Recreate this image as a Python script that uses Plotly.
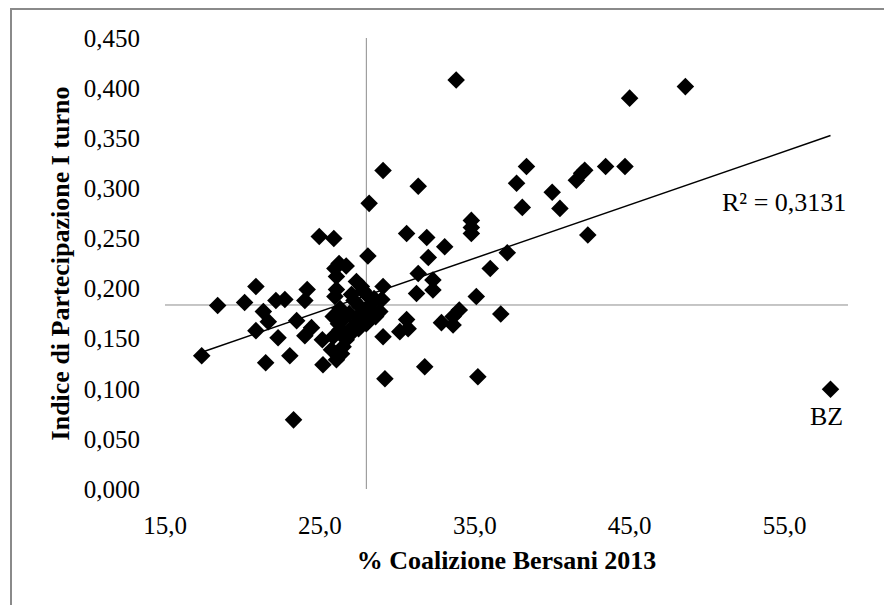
import numpy as np
import plotly.graph_objects as go

# % Coalizione Bersani 2013 (x) and Indice di Partecipazione I turno (y), per province
x_values = [20.87, 18.4, 20.14, 22.16, 22.74, 24.18, 24.03, 21.35, 21.67, 20.87,
            22.3, 23.5, 24.46, 24.03, 25.16, 17.37, 21.5, 23.06, 25.2, 23.3,
            31.35, 28.18, 24.96, 25.9, 30.6, 31.9, 28.1, 32.0, 26.24, 25.97,
            26.7, 26.07, 31.35, 29.08, 31.24, 32.3, 27.36, 27.68, 26.07, 25.97,
            27.04, 28.0, 28.33, 28.87, 27.58, 26.3, 25.86, 26.5, 27.47, 28.0,
            27.15, 26.3, 25.86, 26.7, 25.75, 26.4, 26.07, 29.08, 30.16, 30.6,
            30.7, 31.77, 29.2, 38.34, 37.7, 38.07, 40.0, 40.5, 41.56, 41.9,
            42.1, 43.45, 44.7, 42.3, 34.78, 34.78, 34.78, 33.06, 37.1, 36.0,
            32.3, 35.1, 34.0, 33.6, 32.85, 33.6, 36.68, 35.2, 48.6, 45.0,
            57.97, 33.8, 29.08, 27.9, 28.5, 27.2, 26.9, 27.8, 28.6, 27.0,
            26.5, 28.2, 27.5, 26.2, 29.0]
y_values = [0.202, 0.183, 0.186, 0.188, 0.189, 0.199, 0.188, 0.177, 0.167, 0.158,
            0.151, 0.168, 0.161, 0.153, 0.149, 0.133, 0.126, 0.133, 0.124, 0.069,
            0.302, 0.285, 0.252, 0.250, 0.255, 0.251, 0.2325, 0.231, 0.225, 0.220,
            0.2226, 0.212, 0.215, 0.202, 0.195, 0.2086, 0.207, 0.202, 0.199, 0.192,
            0.194, 0.194, 0.185, 0.177, 0.182, 0.180, 0.172, 0.169, 0.172, 0.165,
            0.162, 0.159, 0.152, 0.149, 0.139, 0.135, 0.129, 0.152, 0.157, 0.169,
            0.160, 0.122, 0.110, 0.3217, 0.305, 0.281, 0.296, 0.280, 0.308, 0.315,
            0.318, 0.3217, 0.3217, 0.2535, 0.268, 0.261, 0.255, 0.2418, 0.2358, 0.220,
            0.1986, 0.192, 0.1786, 0.172, 0.166, 0.1637, 0.1747, 0.112, 0.4015, 0.390,
            0.0995, 0.408, 0.3177, 0.178, 0.190, 0.188, 0.175, 0.198, 0.172, 0.155,
            0.142, 0.170, 0.160, 0.165, 0.189]

labelled_point = {"label": "BZ", "x": 57.97, "y": 0.0995}
reference_x = 28.0      # vertical reference line
reference_y = 0.1836    # horizontal reference line
r2_text = "R² = 0,3131"
x_title = "% Coalizione Bersani 2013"
y_title = "Indice di Partecipazione I turno"

X_RANGE = [15, 59.1]
Y_RANGE = [0, 0.45]

FONT = "Liberation Serif, Times New Roman, serif"

# linear trendline
slope, intercept = np.polyfit(x_values, y_values, 1)
trend_x = [min(x_values), max(x_values)]
trend_y = [intercept + slope * v for v in trend_x]

fig = go.Figure()

fig.add_trace(go.Scatter(x=X_RANGE, y=[reference_y, reference_y], mode="lines",
                         line=dict(color="#8c8c8c", width=1), hoverinfo="skip",
                         showlegend=False))
fig.add_trace(go.Scatter(x=[reference_x, reference_x], y=[Y_RANGE[0], 0.453], mode="lines",
                         line=dict(color="#8c8c8c", width=1), hoverinfo="skip",
                         showlegend=False))

fig.add_trace(go.Scatter(x=trend_x, y=trend_y, mode="lines",
                         line=dict(color="black", width=1.5), showlegend=False))

fig.add_trace(go.Scatter(x=x_values, y=y_values, mode="markers",
                         marker=dict(symbol="diamond", size=13.5, color="black",
                                     line=dict(width=0)),
                         showlegend=False))

# page body has an 8px margin: size the figure so it ends at the window edge
OFF = 8
W, H = 892 - OFF, 605 - OFF
L, R, T, B = 165 - OFF, 44, 38 - OFF, 116
pw, ph = W - L - R, H - T - B

def win_to_paper_x(px):
    return (px - OFF - L) / pw

def win_to_paper_y(py):
    return (H - B - (py - OFF)) / ph

fig.add_annotation(x=win_to_paper_x(784), y=win_to_paper_y(202), xref="paper", yref="paper",
                   text=r2_text, showarrow=False, xanchor="center", yanchor="middle",
                   font=dict(family=FONT, size=26, color="black"))
fig.add_annotation(x=labelled_point["x"], y=labelled_point["y"], text=labelled_point["label"],
                   showarrow=False, xshift=-4, yshift=-27, xanchor="center", yanchor="middle",
                   font=dict(family=FONT, size=26, color="black"))

# outer chart border
fig.add_shape(type="rect", xref="paper", yref="paper",
              x0=win_to_paper_x(11), x1=win_to_paper_x(890),
              y0=win_to_paper_y(640), y1=win_to_paper_y(9),
              line=dict(color="#8a8a8a", width=2), layer="below")

fig.update_layout(
    width=W, height=H, autosize=False,
    margin=dict(l=L, r=R, t=T, b=B),
    paper_bgcolor="white", plot_bgcolor="white",
    separators=",.",
    font=dict(family=FONT, color="black"),
    xaxis=dict(range=X_RANGE, tick0=15, dtick=10, tickformat=".1f",
               showgrid=False, zeroline=False, showline=False,
               ticks="", ticklabelstandoff=19,
               tickfont=dict(family=FONT, size=25, color="black"),
               title=dict(text="<b>" + x_title + "</b>", standoff=12,
                          font=dict(family=FONT, size=26, color="black"))),
    yaxis=dict(range=Y_RANGE, tick0=0, dtick=0.05, tickformat=".3f",
               showgrid=False, zeroline=False, showline=False,
               ticks="", ticklabelstandoff=24,
               tickfont=dict(family=FONT, size=25, color="black"),
               title=dict(text="<b>" + y_title + "</b>", standoff=6,
                          font=dict(family=FONT, size=26, color="black"))),
)

fig.write_html("out.html")
